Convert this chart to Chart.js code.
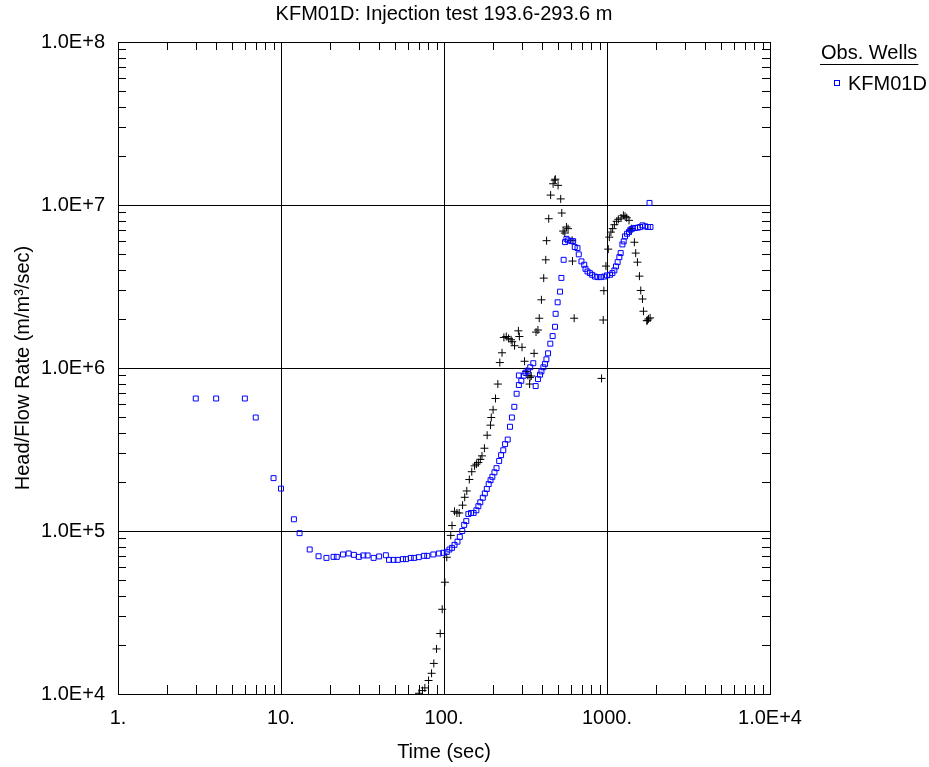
<!DOCTYPE html>
<html>
<head>
<meta charset="utf-8">
<title>KFM01D injection test</title>
<script src="https://cdn.jsdelivr.net/npm/chart.js@4.4.1/dist/chart.umd.min.js"></script>
<style>
  html, body { margin: 0; padding: 0; background: #fff; }
  canvas { display: block; }
</style>
</head>
<body>
<canvas id="chart" width="929" height="767"></canvas>
<script>
// values
const wellName = 'KFM01D';

const kfmTime = [3, 4, 6, 7, 9, 10, 12, 13, 15, 17, 19, 21, 22, 24, 26, 28, 30, 32, 34, 37,
  40, 44, 46, 49, 52, 56, 58.5, 62.5, 65.6, 70, 75.5, 79, 86, 93, 99, 104, 108, 112, 116, 121,
  125, 129.5, 133, 137, 141, 146.5, 152, 158, 162.5, 167, 173, 178, 183, 188, 193, 198, 204, 210, 218, 224,
  231, 237, 246, 254, 261, 270, 279, 288, 298, 288, 308, 316, 327, 338, 353, 365, 377, 388, 396, 407,
  417, 425, 435, 449, 464, 480, 484, 498, 515, 525, 542, 553, 564, 577, 605, 620, 634, 659, 671, 697,
  725, 738, 759, 785, 811, 843, 875, 918, 962, 1000, 1043, 1079, 1110, 1135, 1162, 1191, 1213, 1243, 1266, 1290,
  1327, 1365, 1393, 1432, 1487, 1545, 1596, 1650, 1714, 1780, 1823, 1848];
const kfmHead = [6.5e5, 6.5e5, 6.5e5, 4.97e5, 2.11e5, 1.82e5, 1.18e5, 9.7e4, 7.7e4, 7.0e4, 6.84e4, 6.94e4, 6.94e4, 7.18e4, 7.28e4, 7.14e4, 6.94e4, 7.08e4, 7.08e4, 6.84e4,
  6.98e4, 7.1e4, 6.65e4, 6.65e4, 6.65e4, 6.72e4, 6.72e4, 6.84e4, 6.84e4, 6.91e4, 7.04e4, 7.04e4, 7.18e4, 7.28e4, 7.35e4, 7.45e4, 7.7e4, 7.88e4, 8.22e4, 8.6e4,
  9.2e4, 1.0e5, 1.09e5, 1.15e5, 1.27e5, 1.29e5, 1.29e5, 1.34e5, 1.42e5, 1.5e5, 1.6e5, 1.7e5, 1.81e5, 1.94e5, 2.05e5, 2.15e5, 2.29e5, 2.43e5, 2.69e5, 2.92e5,
  3.13e5, 3.41e5, 3.64e5, 4.36e5, 4.97e5, 5.78e5, 6.95e5, 7.86e5, 8.35e5, 9.0e5, 8.97e5, 9.36e5, 9.62e5, 1.01e6, 1.07e6, 7.75e5, 8.55e5, 9.1e5, 9.53e5, 1.01e6,
  1.06e6, 1.13e6, 1.23e6, 1.41e6, 1.57e6, 1.79e6, 2.15e6, 2.53e6, 2.94e6, 3.57e6, 4.61e6, 5.92e6, 6.2e6, 6.07e6, 6.0e6, 6.0e6, 5.52e6, 5.44e6, 4.98e6, 4.51e6,
  4.3e6, 4.06e6, 3.91e6, 3.82e6, 3.73e6, 3.64e6, 3.61e6, 3.61e6, 3.64e6, 3.7e6, 3.73e6, 3.82e6, 3.97e6, 4.2e6, 4.46e6, 4.79e6, 5.07e6, 5.73e6, 5.98e6, 6.42e6,
  6.66e6, 6.82e6, 7.06e6, 7.16e6, 7.23e6, 7.26e6, 7.33e6, 7.5e6, 7.4e6, 7.33e6, 1.03e7, 7.33e6];

// derivative (black crosses), not in the legend
const derivTime = [70.3, 73.8, 76.3, 80.4, 83.9, 86.6, 90, 94.8, 97.5, 101.3, 104, 110, 112, 116, 120, 124, 130, 134, 138, 143,
  148, 154, 158, 162.5, 167, 171, 177, 184, 193, 195, 200, 207, 214, 220, 227, 233, 241, 249, 258, 262,
  271, 286, 290, 301, 312, 320, 327, 335, 337, 343, 357, 367, 377, 384, 396, 409, 421, 426, 439, 451,
  467, 478, 482, 501, 520, 528, 538, 551, 564, 577, 611, 614, 629, 926, 948, 957, 985, 1018, 1033, 1057,
  1083, 1110, 1146, 1174, 1219, 1260, 1290, 1321, 1365, 1386, 1418, 1472, 1500, 1537, 1581, 1611, 1650, 1674, 1754, 1770,
  1796, 1838];
const derivHead = [1.01e4, 1.05e4, 1.09e4, 1.21e4, 1.34e4, 1.54e4, 1.89e4, 2.35e4, 3.31e4, 4.85e4, 6.9e4, 9.4e4, 1.08e5, 1.32e5, 1.29e5, 1.29e5, 1.44e5, 1.61e5, 1.76e5, 2.07e5,
  2.31e5, 2.51e5, 2.57e5, 2.63e5, 2.75e5, 2.89e5, 3.22e5, 3.87e5, 4.46e5, 4.97e5, 5.54e5, 6.5e5, 7.97e5, 1.08e6, 1.24e6, 1.54e6, 1.56e6, 1.52e6, 1.49e6, 1.45e6,
  1.37e6, 1.69e6, 1.56e6, 1.34e6, 1.1e6, 9.53e5, 9.0e5, 7.97e5, 8.76e5, 8.93e5, 1.23e6, 1.66e6, 1.71e6, 2.02e6, 2.62e6, 3.56e6, 4.61e6, 6.04e6, 8.24e6, 1.15e7,
  1.35e7, 1.42e7, 1.44e7, 1.32e7, 1.09e7, 8.93e6, 6.92e6, 6.73e6, 7.33e6, 7.16e6, 6.07e6, 4.53e6, 2.02e6, 8.63e5, 1.97e6, 2.98e6, 4.22e6, 5.36e6, 6.35e6, 6.82e6,
  7.16e6, 7.57e6, 7.94e6, 8.17e6, 8.32e6, 8.64e6, 8.52e6, 8.35e6, 8.05e6, 7.0e6, 7.16e6, 5.91e6, 5.07e6, 4.46e6, 3.66e6, 2.99e6, 2.65e6, 2.23e6, 1.95e6, 1.96e6,
  2.0e6, 2.03e6];

const xTickValues = [1, 10, 100, 1000, 10000];
const xTickLabels = ['1.', '10.', '100.', '1000.', '1.0E+4'];
const yTickValues = [1e4, 1e5, 1e6, 1e7, 1e8];
const yTickLabels = ['1.0E+4', '1.0E+5', '1.0E+6', '1.0E+7', '1.0E+8'];

const FONT = '"Liberation Sans", Arial, sans-serif';

function toPoints(xs, ys) {
  return xs.map((x, i) => ({ x: x, y: ys[i] }));
}

function isDecade(v) {
  const l = Math.log10(v);
  return Math.abs(l - Math.round(l)) < 1e-6;
}

function labelFor(values, labels, v) {
  const i = values.findIndex(t => Math.abs(t - v) / t < 1e-6);
  return i >= 0 ? labels[i] : '';
}

// frame, inward minor ticks on all four sides, and the legend box at the right
const framePlugin = {
  id: 'frame',
  afterDraw(chart) {
    const { ctx, chartArea: a, scales: { x, y } } = chart;
    ctx.save();
    ctx.strokeStyle = '#000';
    ctx.lineWidth = 1;
    ctx.beginPath();
    for (let i = 0; i < xTickValues.length - 1; i++) {
      for (let m = 2; m <= 9; m++) {
        const px = Math.round(x.getPixelForValue(xTickValues[i] * m)) + 0.5;
        ctx.moveTo(px, a.bottom); ctx.lineTo(px, a.bottom - 9);
        ctx.moveTo(px, a.top); ctx.lineTo(px, a.top + 8);
      }
    }
    for (let i = 0; i < yTickValues.length - 1; i++) {
      for (let m = 2; m <= 9; m++) {
        const py = Math.round(y.getPixelForValue(yTickValues[i] * m)) + 0.5;
        ctx.moveTo(a.left, py); ctx.lineTo(a.left + 8, py);
        ctx.moveTo(a.right, py); ctx.lineTo(a.right - 8, py);
      }
    }
    ctx.stroke();
    ctx.strokeRect(Math.round(a.left) + 0.5, Math.round(a.top) + 0.5,
      Math.round(a.right - a.left), Math.round(a.bottom - a.top));

    // legend
    ctx.font = '20px ' + FONT;
    ctx.fillStyle = '#000';
    ctx.textBaseline = 'alphabetic';
    ctx.textAlign = 'left';
    const head = 'Obs. Wells';
    ctx.fillText(head, 821, 59);
    const w = ctx.measureText(head).width;
    ctx.beginPath();
    ctx.moveTo(820, 64.5); ctx.lineTo(822 + w, 64.5);
    ctx.stroke();
    ctx.strokeStyle = '#0000ff';
    ctx.strokeRect(834.5, 80.5, 5, 5);
    ctx.fillText(wellName, 848, 90);
    ctx.restore();
  }
};

new Chart(document.getElementById('chart'), {
  type: 'scatter',
  data: {
    datasets: [{
      label: wellName,
      data: toPoints(kfmTime, kfmHead),
      pointStyle: 'rect',
      pointRadius: 3.5,
      borderColor: '#0000ff',
      backgroundColor: 'rgba(0,0,0,0)',
      borderWidth: 1
    }, {
      label: 'derivative',
      data: toPoints(derivTime, derivHead),
      pointStyle: 'cross',
      pointRadius: 4,
      borderColor: '#000',
      backgroundColor: '#000',
      borderWidth: 1
    }]
  },
  options: {
    responsive: false,
    animation: false,
    devicePixelRatio: 1,
    events: [],
    layout: { padding: { left: 0, right: 159, top: 0, bottom: 0 } },
    plugins: {
      legend: { display: false },
      tooltip: { enabled: false },
      title: {
        display: true,
        fullSize: false,
        text: 'KFM01D: Injection test 193.6-293.6 m',
        color: '#000',
        font: { family: FONT, size: 20, weight: 'normal' },
        padding: { top: 2, bottom: 16 }
      }
    },
    scales: {
      x: {
        type: 'logarithmic',
        min: 1,
        max: 10000,
        afterFit: s => { s.height = 73; },
        grid: {
          drawTicks: false,
          color: c => (c.tick && isDecade(c.tick.value)) ? '#000' : 'rgba(0,0,0,0)'
        },
        border: { display: true, color: '#000' },
        ticks: {
          autoSkip: false,
          maxRotation: 0,
          padding: 12,
          color: '#000',
          font: { family: FONT, size: 20 },
          callback: v => labelFor(xTickValues, xTickLabels, v)
        },
        title: {
          display: true,
          text: 'Time (sec)',
          color: '#000',
          font: { family: FONT, size: 20 },
          padding: { top: 0, bottom: 3 }
        }
      },
      y: {
        type: 'logarithmic',
        min: 1e4,
        max: 1e8,
        afterFit: s => { s.width = 118; },
        grid: {
          drawTicks: false,
          color: c => (c.tick && isDecade(c.tick.value)) ? '#000' : 'rgba(0,0,0,0)'
        },
        border: { display: true, color: '#000' },
        ticks: {
          autoSkip: false,
          padding: 13,
          color: '#000',
          font: { family: FONT, size: 20 },
          callback: v => labelFor(yTickValues, yTickLabels, v)
        },
        title: {
          display: true,
          text: 'Head/Flow Rate (m/m³/sec)',
          color: '#000',
          font: { family: FONT, size: 20 },
          padding: { top: 11, bottom: 0 }
        }
      }
    }
  },
  plugins: [framePlugin]
});
</script>
</body>
</html>
